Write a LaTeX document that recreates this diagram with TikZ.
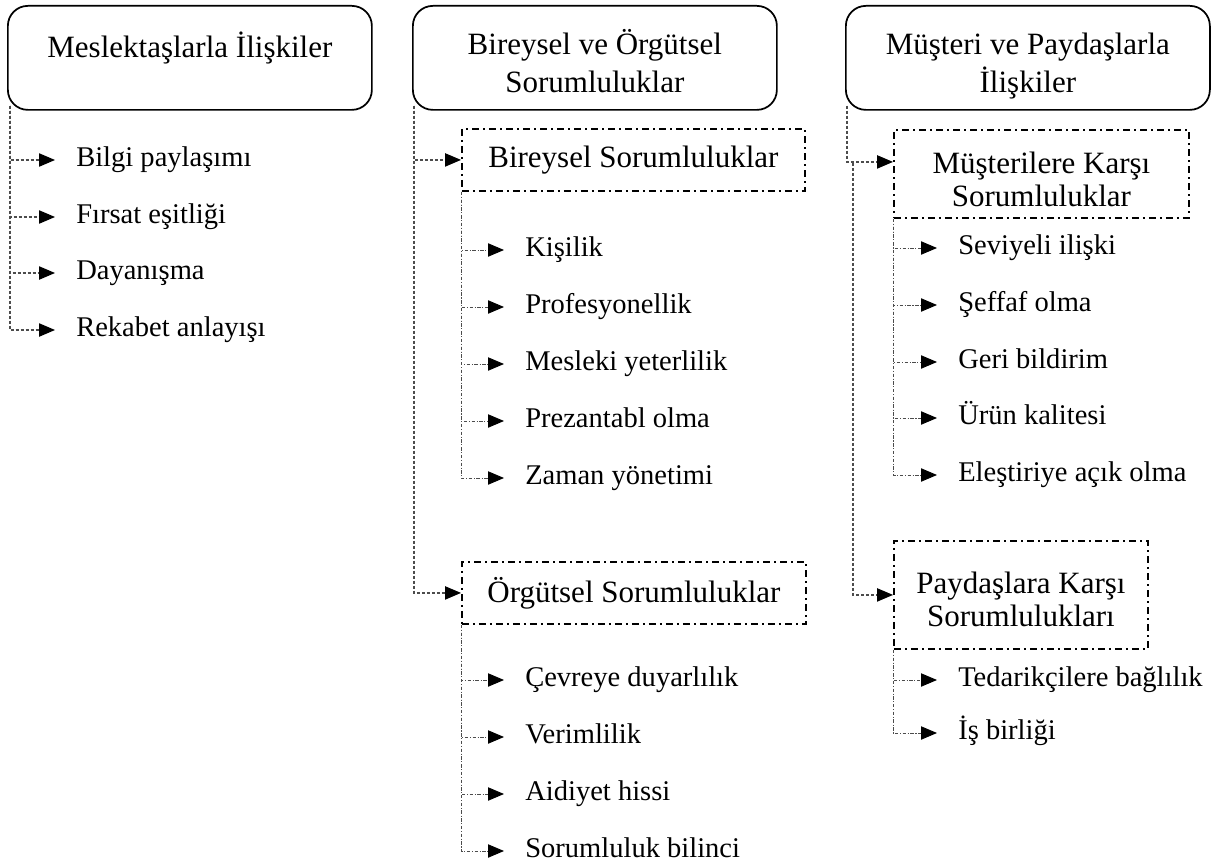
\documentclass[tikz,border=0pt]{standalone}
\usepackage{fontspec}
\setmainfont{Liberation Serif}
\usetikzlibrary{arrows.meta, calc}

% struts that fix where the first and last lines of a box sit
\newcommand{\firstline}[1]{\rule{0pt}{#1}}
\newcommand{\lastline}[1]{\rule[-#1]{0pt}{#1}}

\begin{document}
\begin{tikzpicture}[
    x=0.75pt, y=-0.75pt,
    >={Triangle[length=12pt, width=10pt, color=black, fill=black]},
    topbox/.style={draw, line width=1.3pt, rounded corners=15pt, anchor=north west,
        minimum width=273pt, minimum height=78pt, align=center,
        font=\fontsize{23.25}{28.5}\selectfont},
    subbox/.style={draw, line width=1.4pt, dash pattern=on 5.25pt off 3pt on 1.5pt off 3pt,
        anchor=north west, align=center, inner sep=0pt,
        font=\fontsize{23.25}{25}\selectfont},
    item/.style={anchor=west, inner xsep=15.75pt, inner ysep=0pt,
        text height=16pt, text depth=5.6pt, font=\fontsize{21.4}{25}\selectfont},
    trunk/.style={black!70, line width=0.85pt, dash pattern=on 2.25pt off 1.5pt, ->},
    twig/.style={black!70, line width=0.65pt, dash pattern=on 2.6pt off 1.2pt on 0.8pt off 1.2pt, ->},
]
\useasboundingbox (0,0) rectangle (1213,867);

% =============================================================================
% Top headings
% =============================================================================
\node[topbox, inner ysep=0pt, text height=39pt, text depth=39pt] (mesl) at (7,5) {Meslektaşlarla İlişkiler};
\node[topbox] (bire) at (412,5) {\firstline{29pt}Bireysel ve Örgütsel\\Sorumluluklar\lastline{6pt}};
\node[topbox] (must) at (845,5) {\firstline{29pt}Müşteri ve Paydaşlarla\\İlişkiler\lastline{6pt}};

% --- Sub headings ---
\node[subbox, minimum width=257.25pt, minimum height=46.5pt] (birsor) at (461,128) {Bireysel Sorumluluklar};
\node[subbox, minimum width=258pt, minimum height=46.5pt] (orgsor) at (461,561) {Örgütsel Sorumluluklar};
\node[subbox, minimum width=221.25pt, minimum height=66pt] (musor) at (893,129) {\firstline{24pt}Müşterilere Karşı\\Sorumluluklar};
\node[subbox, minimum width=190.5pt, minimum height=81pt] (paysor) at (893,540) {\firstline{23pt}Paydaşlara Karşı\\Sorumlulukları};

% =============================================================================
% Items
% =============================================================================
\foreach \n/\y/\t in {m1/160/Bilgi paylaşımı, m2/217/Fırsat eşitliği,
                      m3/273/Dayanışma, m4/330/Rekabet anlayışı}
    \node[item] (\n) at (55,\y) {\t};

\foreach \n/\y/\t in {k1/250/Kişilik, k2/307/Profesyonellik, k3/364/Mesleki yeterlilik,
                      k4/421/Prezantabl olma, k5/478/Zaman yönetimi}
    \node[item] (\n) at (504,\y) {\t};

\foreach \n/\y/\t in {o1/680/Çevreye duyarlılık, o2/737/Verimlilik,
                      o3/794/Aidiyet hissi, o4/851/Sorumluluk bilinci}
    \node[item] (\n) at (504,\y) {\t};

\foreach \n/\y/\t in {s1/248/Seviyeli ilişki, s2/305/Şeffaf olma, s3/362/Geri bildirim,
                      s4/418/Ürün kalitesi, s5/475/Eleştiriye açık olma}
    \node[item] (\n) at (937,\y) {\t};

\foreach \n/\y/\t in {p1/680/Tedarikçilere bağlılık, p2/733/İş birliği}
    \node[item] (\n) at (937,\y) {\t};

% =============================================================================
% Connectors
% =============================================================================
\coordinate (t1) at ($(mesl.south west)+(3,-5)$);
\foreach \n in {m1,m2,m3,m4}
    \draw[trunk] (t1) |- (\n.west);

\coordinate (t2) at ($(bire.south west)+(2,-5)$);
\draw[trunk] (t2) |- (birsor.west);
\draw[trunk] (t2) |- (orgsor.west);

\coordinate (t3) at ($(must.south west)+(2,-5)$);
\coordinate (musin) at ($(musor.west)+(0,-12)$);
\draw[trunk] (t3) |- (musin);
\coordinate (t4) at ($(musor.west)+(-40,-11)$);
\draw[trunk] (t4) |- (paysor.west);

% --- second level ---
\foreach \n in {k1,k2,k3,k4,k5}
    \draw[twig] (birsor.south west) |- (\n.west);
\foreach \n in {o1,o2,o3,o4}
    \draw[twig] (orgsor.south west) |- (\n.west);
\foreach \n in {s1,s2,s3,s4,s5}
    \draw[twig] (musor.south west) |- (\n.west);
\foreach \n in {p1,p2}
    \draw[twig] (paysor.south west) |- (\n.west);

\end{tikzpicture}
\end{document}
